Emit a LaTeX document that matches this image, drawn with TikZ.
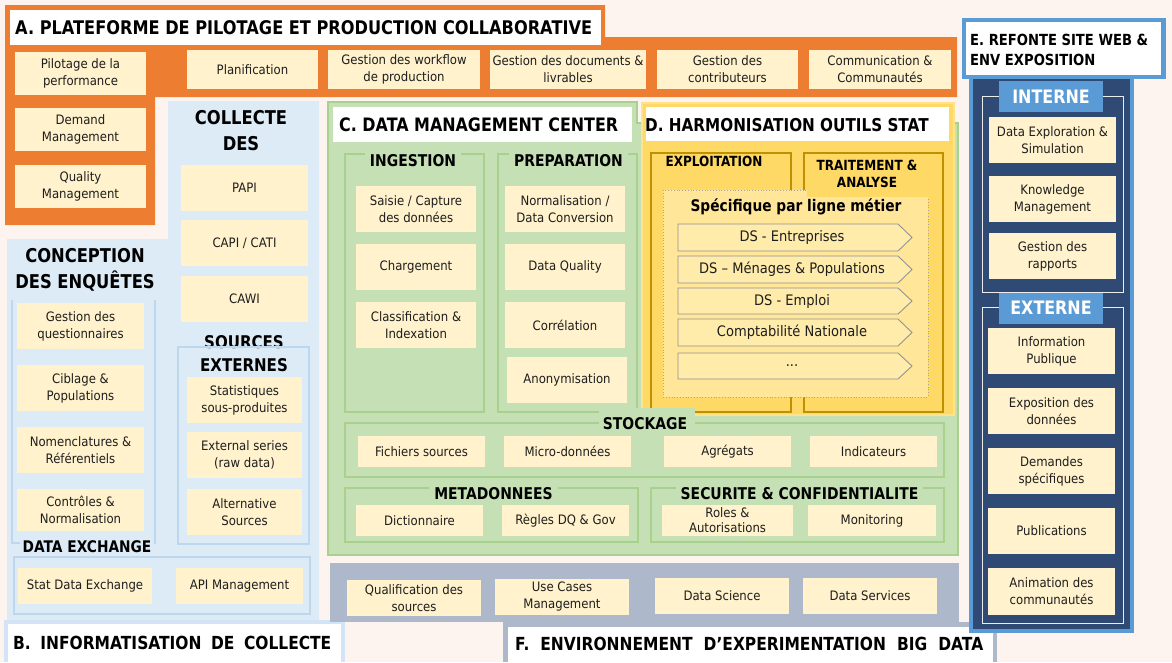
\documentclass[tikz,border=0pt]{standalone}
\usepackage{fontspec}
\setmainfont{DejaVu Sans}[FakeStretch=0.9]
\newfontfamily\tfont{DejaVu Sans}[FakeStretch=0.86]
\definecolor{bgc}{HTML}{FDF4EF}
\definecolor{orng}{HTML}{ED7D31}
\definecolor{boxy}{HTML}{FFF2CC}
\definecolor{bluB}{HTML}{DDEBF7}
\definecolor{bluBd}{HTML}{D2E4F5}
\definecolor{bline}{HTML}{BDD7EE}
\definecolor{grn}{HTML}{C5E0B4}
\definecolor{grnd}{HTML}{A9D18E}
\definecolor{ylw}{HTML}{FFD966}
\definecolor{ylwl}{HTML}{FFE38A}
\definecolor{gold}{HTML}{BF9000}
\definecolor{specf}{HTML}{FFE699}
\definecolor{chevf}{HTML}{FFEBAA}
\definecolor{navy}{HTML}{2F4A75}
\definecolor{eblu}{HTML}{5B9BD5}
\definecolor{gryF}{HTML}{ADB9CA}
\definecolor{txt}{HTML}{1E1E1E}
\newcommand\ttlf[2]{\tfont\bfseries\fontsize{#1}{#2}\selectfont}
\tikzset{
  ybox/.style={fill=boxy, inner sep=0pt, align=center, text=txt, font=\fontsize{13}{17}\selectfont},
  ttl/.style={inner sep=0pt, anchor=west, text=black},
  sttl/.style={inner xsep=5pt, inner ysep=2pt, align=center, text=black},
  gfr/.style={draw=grnd, line width=1.5pt},
  bfr/.style={draw=bline, line width=1.2pt},
  yfr/.style={draw=gold, line width=1.2pt},
  efr/.style={draw=white!85!gray, line width=1pt},
  chevshape/.style={draw=gray!85, fill=chevf, line width=0.9pt},
  chevt/.style={inner sep=0pt, text=txt, font=\fontsize{14.5}{17}\selectfont},
  elbl/.style={fill=eblu, text=white, inner sep=0pt, minimum width=104, minimum height=31, font=\ttlf{18.5}{20}}
}
\newcommand\ybx[6]{\node[ybox,minimum width={(#4)-(#2)},minimum height={(#5)-(#3)}] (#1) at ({((#2)+(#4))/2},{((#3)+(#5))/2}) {#6};}
\newcommand\chv[4]{\draw[chevshape] (678,#2) -- (898,#2) -- (912,{((#2)+(#3))/2}) -- (898,#3) -- (678,#3) -- cycle;
  \node[chevt] (#1) at (792,{((#2)+(#3))/2}) {#4};}
\begin{document}
\begin{tikzpicture}[x=1pt,y=-1pt]
\useasboundingbox (0,0) rectangle (1172,662);
\fill[bgc] (0,0) rectangle (1172,662);
% ---------- A ----------
\fill[orng] (5,5) -- (605,5) -- (605,37) -- (957,37) -- (957,97) -- (155,97) -- (155,225) -- (5,225) -- cycle;
\fill[white] (10,10) rectangle (601,45);
\node[ttl, font=\ttlf{18.8}{20}] (tA) at (15,27.5) {A. PLATEFORME DE PILOTAGE ET PRODUCTION COLLABORATIVE};
% ---------- B ----------
\fill[bluB] (7,239) -- (168,239) -- (168,101) -- (319,101) -- (319,623) -- (7,623) -- cycle;
\fill[bluBd] (4,620) rectangle (345,662);
\fill[white] (8,624) rectangle (341,662);
\node[ttl, font=\ttlf{18}{20}] (tB) at (13,643) {\spaceskip=9.5pt B. INFORMATISATION DE COLLECTE};
% ---------- C ----------
\filldraw[fill=grn, draw=grnd, line width=1.5pt] (328,102) -- (637,102) -- (637,123) -- (958,123) -- (958,555) -- (328,555) -- cycle;
\fill[white] (333,107) rectangle (632,142);
\node[ttl, font=\ttlf{18.5}{20}] (tC) at (339,125) {C. DATA MANAGEMENT CENTER};
% ---------- D ----------
\filldraw[fill=ylw, draw=ylwl, line width=1.5pt] (642,103) rectangle (954,415);
\fill[white] (646,107) rectangle (949,141);
\node[ttl, font=\ttlf{17.7}{20}] (tD) at (645,125) {D. HARMONISATION OUTILS STAT};
% ---------- F ----------
\fill[gryF] (330,563) rectangle (959,622);
\fill[gryF] (503,622) rectangle (997,662);
\fill[white] (508,627) rectangle (993,662);
\node[ttl, font=\ttlf{18}{20}] (tF) at (515,644) {\spaceskip=11pt F. ENVIRONNEMENT D’EXPERIMENTATION BIG DATA};
% ---------- E ----------
\fill[eblu] (962,18) rectangle (1166,79);
\fill[white] (966,22) rectangle (1161,75);
\node[ttl, align=left, font=\ttlf{15.3}{20}] (tE) at (970,50) {E. REFONTE SITE WEB \&\\ENV EXPOSITION};
\fill[eblu] (969,79) rectangle (1134,633);
\fill[navy] (973,79) rectangle (1130,629);
\draw[efr] (982,96) rectangle (1123,292);
\draw[efr] (982,307) rectangle (1123,623);
\node[elbl] (lint) at (1051,96.5) {INTERNE};
\node[elbl] (lext) at (1051,308) {EXTERNE};
% ---------- A boxes ----------
\ybx{pil}{15}{52}{146}{95}{Pilotage de la\\performance}
\ybx{dem}{15}{108}{146}{151}{Demand\\Management}
\ybx{qual}{15}{165}{146}{208}{Quality\\Management}
\ybx{plan}{187}{50}{318}{89}{Planification}
\ybx{wf}{328}{50}{480}{89}{Gestion des workflow\\de production}
\ybx{doc}{490}{50}{646}{89}{Gestion des documents \&\\livrables}
\ybx{contrib}{657}{50}{798}{89}{Gestion des\\contributeurs}
\ybx{comm}{809}{50}{951}{89}{Communication \&\\Communautés}
% ---------- B frames, titles, boxes ----------
\node[sttl, inner sep=0pt, font=\ttlf{19}{26}] (tcol) at (241,131) {COLLECTE\\DES};
\node[sttl, inner sep=0pt, font=\ttlf{19}{26}] (tcon) at (85,269.5) {CONCEPTION\\DES ENQUÊTES};
\draw[bfr] (12,300) -- (12,543) -- (155,543) -- (155,300);
\node[sttl, inner sep=0pt, font=\ttlf{17.5}{23}] (tsrc) at (244,353.5) {SOURCES\\EXTERNES};
\draw[bfr] (178,347) rectangle (309,544);
\draw[bfr] (14,557) rectangle (310,614);
\node[sttl, fill=bluB, inner xsep=3pt, inner ysep=1pt, font=\ttlf{16}{18}] (tdx) at (87,547) {DATA EXCHANGE};
\ybx{papi}{181}{165}{308}{211}{PAPI}
\ybx{capi}{181}{220}{308}{266}{CAPI / CATI}
\ybx{cawi}{181}{276}{308}{322}{CAWI}
\ybx{gq}{17}{303}{144}{349}{Gestion des\\questionnaires}
\ybx{cib}{17}{365}{144}{411}{Ciblage \&\\Populations}
\ybx{nom}{17}{427}{144}{473}{Nomenclatures \&\\Référentiels}
\ybx{ctrl}{17}{489}{144}{531}{Contrôles \&\\Normalisation}
\ybx{stat}{187}{377}{302}{423}{Statistiques\\sous-produites}
\ybx{ext}{187}{432}{302}{478}{External series\\(raw data)}
\ybx{alt}{187}{489}{302}{535}{Alternative\\Sources}
\ybx{sdx}{18}{568}{152}{604}{Stat Data Exchange}
\ybx{api}{176}{568}{303}{604}{API Management}
% ---------- C frames ----------
\draw[gfr] (345,154) rectangle (484,412);
\draw[gfr] (498,154) rectangle (637,412);
\draw[gfr] (345,423) rectangle (944,477);
\draw[gfr] (345,488) rectangle (638,542);
\draw[gfr] (651,488) rectangle (944,542);
\node[sttl, fill=grn, font=\ttlf{16.2}{18}] (ting) at (413,161) {INGESTION};
\node[sttl, fill=grn, font=\ttlf{16.2}{18}] (tprep) at (568.5,161) {PREPARATION};
\node[sttl, fill=grn, font=\ttlf{16.2}{18}] (tmeta) at (493.5,494) {METADONNEES};
\node[sttl, fill=grn, font=\ttlf{16.2}{18}] (tsec) at (799.5,494) {SECURITE \& CONFIDENTIALITE};
\ybx{saisie}{356}{186}{476}{232}{Saisie / Capture\\des données}
\ybx{charg}{356}{244}{476}{290}{Chargement}
\ybx{class}{356}{302}{476}{348}{Classification \&\\Indexation}
\ybx{norm}{505}{186}{625}{232}{Normalisation /\\Data Conversion}
\ybx{dq}{505}{244}{625}{290}{Data Quality}
\ybx{corr}{505}{302}{625}{348}{Corrélation}
\ybx{anon}{507}{357}{627}{403}{Anonymisation}
% ---------- D content ----------
\draw[yfr] (651,153) rectangle (791,412);
\draw[yfr] (804,153) rectangle (943,412);
\draw[fill=specf, draw=gray!70, dotted, line width=0.8pt] (663,190) rectangle (928,397);
\node[sttl, fill=ylw, inner xsep=4pt, font=\ttlf{14}{16}] (texp) at (714,161) {EXPLOITATION};
\fill[ylw] (807,155) rectangle (933,197);
\node[sttl, inner sep=0pt, font=\ttlf{14}{17}] (ttra) at (867,173.5) {TRAITEMENT \&\\ANALYSE};
\node[sttl, inner sep=0pt, font=\ttlf{16}{18}] (tspec) at (796,207) {Spécifique par ligne métier};
\chv{c1}{224}{251}{DS - Entreprises}
\chv{c2}{256}{283}{DS – Ménages \& Populations}
\chv{c3}{288}{314}{DS - Emploi}
\chv{c4}{319}{346}{Comptabilité Nationale}
\chv{c5}{353}{379}{...}
% ---------- stockage ----------
\fill[grn] (599,408) rectangle (695,431);
\node[sttl, inner sep=0pt, font=\ttlf{16.2}{18}] (tsto) at (645,424) {STOCKAGE};
\ybx{fich}{358}{436}{485}{467}{Fichiers sources}
\ybx{micro}{504}{436}{631}{467}{Micro-données}
\ybx{agr}{664}{436}{791}{467}{Agrégats}
\ybx{ind}{810}{436}{937}{467}{Indicateurs}
\ybx{dict}{356}{505}{483}{536}{Dictionnaire}
\ybx{regles}{502}{505}{629}{536}{Règles DQ \& Gov}
\node[ybox, minimum width=131, minimum height=31, font=\fontsize{13}{15}\selectfont] (roles) at (727.5,520.5) {Roles \&\\Autorisations};
\ybx{monit}{808}{505}{936}{536}{Monitoring}
% ---------- F boxes ----------
\ybx{qs}{347}{580}{481}{616}{Qualification des\\sources}
\ybx{uc}{495}{579}{629}{615}{Use Cases\\Management}
\ybx{dsc}{655}{578}{789}{614}{Data Science}
\ybx{dsv}{803}{578}{937}{614}{Data Services}
% ---------- E boxes ----------
\ybx{dex}{989}{117}{1116}{163}{Data Exploration \&\\Simulation}
\ybx{km}{989}{176}{1116}{222}{Knowledge\\Management}
\ybx{gr}{989}{233}{1116}{279}{Gestion des\\rapports}
\ybx{ip}{988}{328}{1115}{374}{Information\\Publique}
\ybx{expo}{988}{388}{1115}{434}{Exposition des\\données}
\ybx{dsp}{988}{448}{1115}{494}{Demandes\\spécifiques}
\ybx{pub}{988}{508}{1115}{554}{Publications}
\ybx{anim}{988}{568}{1115}{615}{Animation des\\communautés}
\end{tikzpicture}
\end{document}
